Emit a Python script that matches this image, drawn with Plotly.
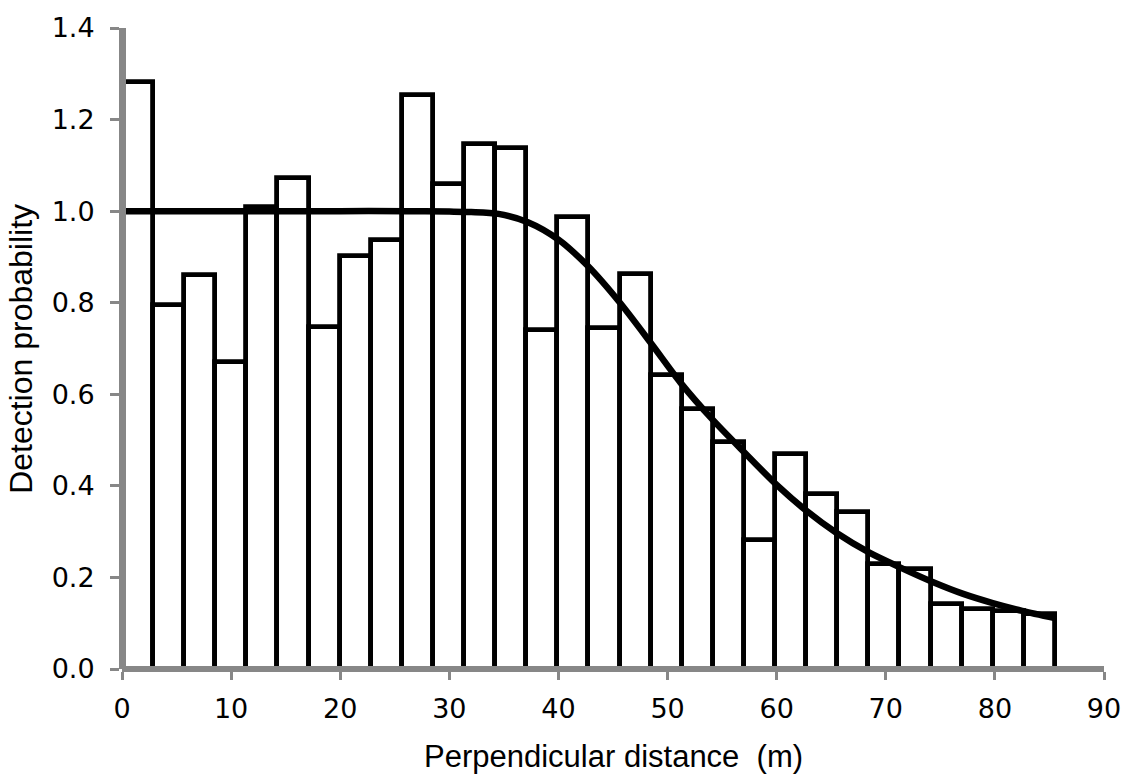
import plotly.graph_objects as go

# Histogram bins (perpendicular distance, m) and scaled detection frequencies
bin_edges = [0.0, 2.85, 5.7, 8.55, 11.4, 14.25, 17.1, 19.95, 22.8, 25.65, 28.5,
             31.35, 34.2, 37.05, 39.9, 42.75, 45.6, 48.45, 51.3, 54.15, 57.0,
             59.85, 62.7, 65.55, 68.4, 71.25, 74.1, 76.95, 79.8, 82.65, 85.5]
bar_heights = [1.282, 0.794, 0.861, 0.670, 1.009, 1.073, 0.746, 0.903, 0.938, 1.253,
               1.059, 1.146, 1.139, 0.740, 0.988, 0.744, 0.862, 0.642, 0.567, 0.495,
               0.282, 0.469, 0.382, 0.344, 0.229, 0.218, 0.141, 0.132, 0.126, 0.121]

# Fitted detection function
curve_x = [0, 10, 20, 26, 30, 32, 34.5, 37.2, 40.0, 42.7, 45.6, 48.5, 51.2, 54.0,
           57.0, 60.0, 62.7, 65.5, 68.5, 71.3, 74.3, 77.1, 79.8, 82.5, 85.5]
curve_y = [1.0, 1.0, 1.0, 1.0, 0.999, 0.998, 0.994, 0.976, 0.938, 0.880, 0.801, 0.711,
           0.625, 0.548, 0.474, 0.402, 0.346, 0.297, 0.254, 0.222, 0.190, 0.164,
           0.144, 0.127, 0.111]

x_ticks = [0, 10, 20, 30, 40, 50, 60, 70, 80, 90]
y_ticks = [0.0, 0.2, 0.4, 0.6, 0.8, 1.0, 1.2, 1.4]

centers = [(a + b) / 2 for a, b in zip(bin_edges[:-1], bin_edges[1:])]
widths = [b - a for a, b in zip(bin_edges[:-1], bin_edges[1:])]

fig = go.Figure()
fig.add_trace(go.Bar(
    x=centers, y=bar_heights, width=widths,
    marker=dict(color="white", line=dict(color="black", width=4.8)),
    showlegend=False, hoverinfo="x+y"))
fig.add_trace(go.Scatter(
    x=curve_x, y=curve_y, mode="lines",
    line=dict(color="black", width=6.5, shape="spline", smoothing=0.8),
    showlegend=False))

tick_font = dict(family="DejaVu Sans, Verdana", size=27, color="black")
axis_gray = "#878787"

fig.update_layout(
    width=1133, height=779,
    margin=dict(l=122, r=25, t=21, b=110),
    paper_bgcolor="white", plot_bgcolor="white",
    bargap=0,
    xaxis=dict(range=[0, 90], tickvals=x_ticks, ticktext=[str(v) for v in x_ticks],
               anchor="free", position=0, layer="above traces",
               showgrid=False, zeroline=False, showline=True, linecolor=axis_gray,
               linewidth=6, ticks="outside", ticklen=8, tickwidth=3, tickcolor=axis_gray,
               tickfont=tick_font, ticklabelstandoff=6),
    yaxis=dict(range=[0, 1.4], tickvals=y_ticks, ticktext=[f"{v:.1f}" for v in y_ticks],
               anchor="free", position=0, layer="above traces",
               showgrid=False, zeroline=False, showline=True, linecolor=axis_gray,
               linewidth=7, ticks="outside", ticklen=9, tickwidth=3, tickcolor=axis_gray,
               tickfont=tick_font, ticklabelstandoff=10),
    annotations=[
        dict(text="Perpendicular distance\u00a0 (m)", xref="paper", yref="paper",
             x=0.5, y=-0.137, xanchor="center", yanchor="middle", showarrow=False,
             font=dict(family="Liberation Sans, Arial", size=31, color="black")),
        dict(text="Detection probability", xref="paper", yref="paper",
             x=-0.1035, y=0.5, xanchor="center", yanchor="middle", textangle=-90,
             showarrow=False,
             font=dict(family="Liberation Sans, Arial", size=32, color="black")),
    ],
)

fig.write_html("out.html")
